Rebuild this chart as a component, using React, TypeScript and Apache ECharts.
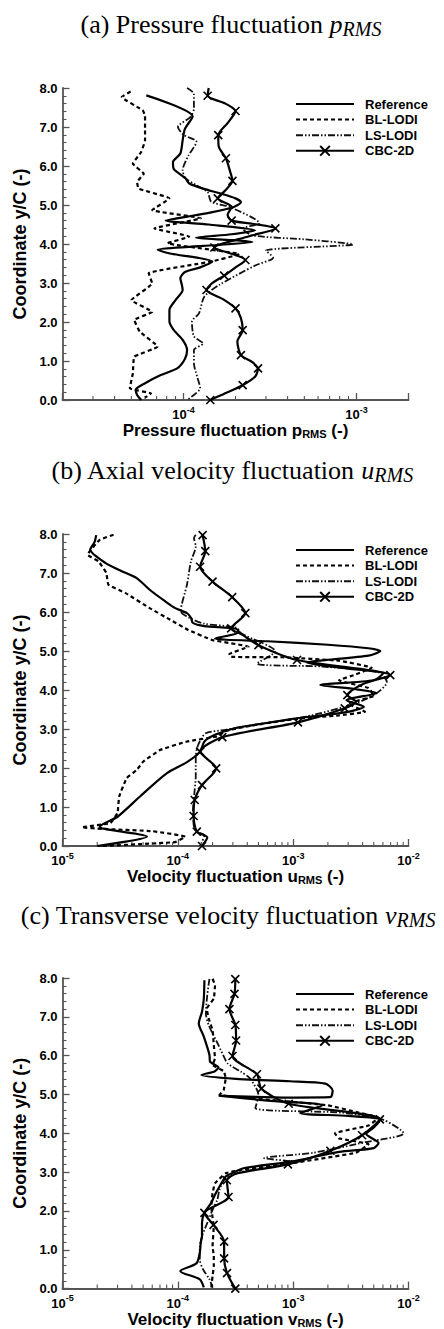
import { useEffect, useRef } from 'react';
import * as echarts from 'echarts';

// ---------------- data ----------------
// Panel (a): pressure fluctuation p_RMS  [value, y/C]
const refA = [
  [6.1e-5, 7.81], [1.13e-4, 7.27], [1.02e-4, 6.95], [9.9e-5, 6.66], [9.6e-5, 6.32], [8.7e-5, 6.1],
  [8.8e-5, 5.92], [9.5e-5, 5.8], [1.03e-4, 5.68], [1.08e-4, 5.55], [1.3e-4, 5.42], [1.65e-4, 5.29],
  [2.0e-4, 5.17], [2.15e-4, 5.07], [1.9e-4, 4.93], [1.4e-4, 4.8], [1.05e-4, 4.7], [7.9e-5, 4.6],
  [1.4e-4, 4.5], [2.6e-4, 4.35], [1.9e-4, 4.25], [1.18e-4, 4.16], [1.9e-4, 4.1], [2.5e-4, 4.05],
  [1.3e-4, 3.95], [7.1e-5, 3.85], [8.5e-5, 3.75], [1.2e-4, 3.65], [1.47e-4, 3.55], [1.25e-4, 3.4],
  [1.02e-4, 3.28], [9.6e-5, 3.12], [9.8e-5, 2.95], [9.9e-5, 2.82], [9.0e-5, 2.56], [8.3e-5, 2.31],
  [8.3e-5, 2.01], [8.8e-5, 1.79], [9.9e-5, 1.54], [1.05e-4, 1.28], [1.02e-4, 1.05], [9.2e-5, 0.81],
  [7.4e-5, 0.64], [6.0e-5, 0.43], [5.3e-5, 0.26], [5.4e-5, 0.13], [5.7e-5, 0.0],
];
const blA = [
  [4.95e-5, 7.91], [4.4e-5, 7.77], [5.8e-5, 7.43], [6.0e-5, 7.3], [6.0e-5, 6.96], [6.0e-5, 6.66],
  [5.7e-5, 6.36], [5.1e-5, 6.06], [5.9e-5, 5.8], [5.4e-5, 5.59], [5.5e-5, 5.42], [8.3e-5, 5.17],
  [6.6e-5, 4.87], [1.26e-4, 4.66], [6.8e-5, 4.4], [1.08e-4, 4.19], [8.1e-5, 4.02], [2.1e-4, 3.74],
  [1.45e-4, 3.55], [6.3e-5, 3.25], [6.6e-5, 2.99], [5.0e-5, 2.56], [6.6e-5, 2.26], [5.2e-5, 2.05],
  [5.6e-5, 1.75], [7.1e-5, 1.37], [5.2e-5, 1.11], [5.1e-5, 0.68], [4.9e-5, 0.3], [6.5e-5, 0.17],
  [6.0e-5, 0.06],
];
const lsA = [
  [1.05e-4, 8.0], [1.15e-4, 7.85], [1.15e-4, 7.47], [1.1e-4, 7.26], [9.3e-5, 7.0], [1.0e-4, 6.8],
  [1.19e-4, 6.62], [1.07e-4, 6.27], [9.9e-5, 5.89], [1.03e-4, 5.68], [1.2e-4, 5.5], [1.38e-4, 5.33],
  [1.45e-4, 5.08], [1.85e-4, 4.95], [2.75e-4, 4.53], [2.2e-4, 4.4], [2.5e-4, 4.22], [5.0e-4, 4.12],
  [9.55e-4, 3.99], [3.0e-4, 3.83], [3.3e-4, 3.65], [2.6e-4, 3.45], [1.61e-4, 2.95], [1.32e-4, 2.65],
  [1.23e-4, 2.22], [1.12e-4, 2.01], [1.15e-4, 1.63], [1.3e-4, 1.45], [1.15e-4, 1.28], [1.15e-4, 0.94],
  [1.2e-4, 0.6], [1.25e-4, 0.3], [1.18e-4, 0.17], [1.05e-4, 0.0],
];
// third column: 1 = CBC-2D marker station
const cbcA = [
  [1.4e-4, 8.0, 0], [1.38e-4, 7.8, 1], [1.75e-4, 7.6, 0], [2.0e-4, 7.41, 1], [1.8e-4, 7.1, 0],
  [1.59e-4, 6.79, 1], [1.6e-4, 6.5, 0], [1.76e-4, 6.2, 1], [1.85e-4, 5.9, 0], [1.92e-4, 5.62, 1],
  [1.75e-4, 5.38, 0], [1.58e-4, 5.17, 1], [1.9e-4, 4.95, 0], [1.8e-4, 4.75, 0], [1.9e-4, 4.6, 1],
  [2.5e-4, 4.52, 0], [3.4e-4, 4.4, 1], [2.4e-4, 4.2, 0], [1.51e-4, 3.91, 1], [2.0e-4, 3.72, 0],
  [2.28e-4, 3.59, 1], [2.0e-4, 3.4, 0], [1.72e-4, 3.19, 1], [1.45e-4, 2.98, 0], [1.36e-4, 2.82, 1],
  [1.7e-4, 2.58, 0], [2.0e-4, 2.35, 1], [2.15e-4, 2.1, 0], [2.2e-4, 1.79, 1], [2.05e-4, 1.5, 0],
  [2.15e-4, 1.15, 1], [2.5e-4, 0.97, 0], [2.7e-4, 0.81, 1], [2.6e-4, 0.6, 0], [2.2e-4, 0.38, 1],
  [1.7e-4, 0.15, 0], [1.43e-4, 0.0, 1],
];

// Panel (b): axial velocity fluctuation u_RMS
const refB = [
  [1.96e-5, 7.97], [1.9e-5, 7.8], [1.74e-5, 7.6], [2.35e-5, 7.26], [3.3e-5, 7.04], [4.4e-5, 6.87],
  [5.7e-5, 6.57], [7.8e-5, 6.27], [9.5e-5, 6.1], [1.2e-4, 5.97], [1.3e-4, 5.85], [1.35e-4, 5.72],
  [1.7e-4, 5.64], [3.2e-4, 5.57], [3.4e-4, 5.48], [2.1e-4, 5.32], [6.0e-4, 5.25], [2.0e-3, 5.16],
  [4.5e-3, 5.07], [5.7e-3, 5.0], [4.5e-3, 4.88], [1.32e-3, 4.7], [3.0e-3, 4.55], [6.0e-3, 4.42],
  [5.0e-3, 4.25], [1.72e-3, 4.13], [3.5e-3, 4.02], [5.3e-3, 3.92], [2.9e-3, 3.74], [4.1e-3, 3.57],
  [3.0e-3, 3.44], [1.05e-3, 3.27], [4.5e-4, 3.1], [3.1e-4, 3.02], [2.1e-4, 2.85], [1.7e-4, 2.68],
  [1.56e-4, 2.42], [1.2e-4, 2.15], [8.0e-5, 1.86], [4.7e-5, 1.27], [3.0e-5, 0.75], [2.1e-5, 0.49],
  [2.2e-5, 0.45], [5.4e-5, 0.24], [2.0e-5, 0.0],
];
const blB = [
  [2.77e-5, 7.98], [2.1e-5, 7.85], [1.65e-5, 7.47], [2.05e-5, 7.3], [2.4e-5, 7.0], [2.5e-5, 6.7],
  [3.5e-5, 6.49], [5.7e-5, 6.1], [8.6e-5, 5.8], [1.23e-4, 5.54], [2.0e-4, 5.28], [4.1e-4, 5.11],
  [2.8e-4, 4.92], [2.85e-4, 4.85], [8.0e-4, 4.84], [2.5e-3, 4.75], [4.8e-3, 4.57], [3.5e-3, 4.4],
  [2.5e-3, 4.25], [4.5e-3, 4.05], [5.0e-3, 3.85], [3.0e-3, 3.65], [4.2e-3, 3.44], [2.5e-3, 3.35],
  [1.0e-3, 3.25], [4.2e-4, 3.08], [2.6e-4, 2.95], [2.2e-4, 2.81], [1.2e-4, 2.68], [7.0e-5, 2.46],
  [5.0e-5, 2.16], [4.4e-5, 1.95], [3.6e-5, 1.74], [3.1e-5, 1.27], [3.0e-5, 0.85], [2.6e-5, 0.59],
  [1.47e-5, 0.48], [2.2e-5, 0.44], [6.0e-5, 0.38], [1.16e-4, 0.24], [9.5e-5, 0.1], [2.2e-5, 0.0],
];
const lsB = [
  [1.43e-4, 7.98], [1.38e-4, 7.9], [1.43e-4, 7.68], [1.3e-4, 7.3], [1.2e-4, 6.7], [1.06e-4, 6.02],
  [1.26e-4, 5.85], [1.7e-4, 5.7], [3.2e-4, 5.6], [3.6e-4, 5.44], [5.0e-4, 5.25], [6.2e-4, 5.12],
  [7.0e-4, 5.0], [4.85e-4, 4.68], [1.8e-3, 4.6], [5.5e-3, 4.45], [6.5e-3, 4.2], [5.3e-3, 3.92],
  [3.5e-3, 3.66], [1.3e-3, 3.32], [4.5e-4, 3.1], [2.6e-4, 2.98], [1.74e-4, 2.89], [1.5e-4, 2.59],
  [1.43e-4, 2.29], [1.43e-4, 1.78], [1.4e-4, 1.44], [1.35e-4, 0.84], [1.38e-4, 0.5], [1.45e-4, 0.37],
  [1.7e-4, 0.28], [1.6e-4, 0.07], [1.55e-4, 0.0],
];
const cbcB = [
  [1.64e-4, 7.97, 1], [1.73e-4, 7.56, 1], [1.56e-4, 7.16, 1], [2.0e-4, 6.78, 1], [2.96e-4, 6.38, 1],
  [3.85e-4, 5.97, 1], [2.9e-4, 5.58, 1], [3.6e-4, 5.42, 0], [5.0e-4, 5.15, 1], [1.08e-3, 4.77, 1],
  [6.95e-3, 4.38, 1], [4.0e-3, 4.15, 0], [2.95e-3, 3.87, 1], [3.5e-3, 3.7, 0], [2.8e-3, 3.53, 1],
  [1.1e-3, 3.17, 1], [2.43e-4, 2.79, 1], [1.56e-4, 2.42, 1], [2.15e-4, 1.99, 1], [1.62e-4, 1.56, 1],
  [1.4e-4, 1.18, 1], [1.37e-4, 0.77, 1], [1.46e-4, 0.37, 1], [1.8e-4, 0.22, 0], [1.62e-4, 0.0, 1],
];

// Panel (c): transverse velocity fluctuation v_RMS
const refC = [
  [1.7e-4, 7.94], [1.68e-4, 7.47], [1.62e-4, 7.13], [1.52e-4, 6.83], [1.68e-4, 6.49], [1.88e-4, 6.02],
  [1.9e-4, 5.85], [2.25e-4, 5.7], [2.1e-4, 5.6], [1.6e-4, 5.5], [3.2e-4, 5.4], [9.4e-4, 5.34],
  [1.9e-3, 5.28], [2.2e-3, 5.1], [2.1e-3, 4.93], [9.0e-4, 4.92], [2.26e-4, 4.97], [6.0e-4, 4.84],
  [1.8e-3, 4.72], [1.15e-3, 4.52], [3.0e-3, 4.45], [5.7e-3, 4.35], [5.0e-3, 4.15], [4.3e-3, 3.98],
  [5.5e-3, 3.75], [5.0e-3, 3.62], [2.5e-3, 3.52], [9.5e-4, 3.27], [3.7e-4, 3.1], [2.95e-4, 2.97],
  [2.6e-4, 2.89], [2.3e-4, 2.63], [2.1e-4, 2.42], [1.95e-4, 2.21], [1.7e-4, 1.95], [1.62e-4, 1.69],
  [1.62e-4, 1.35], [1.58e-4, 1.18], [1.55e-4, 0.92], [1.45e-4, 0.65], [1.05e-4, 0.45], [1.55e-4, 0.24],
  [1.68e-4, 0.03],
];
const blC = [
  [2.0e-4, 7.98], [2.1e-4, 7.81], [2.05e-4, 7.47], [1.78e-4, 7.21], [1.85e-4, 6.96], [2.0e-4, 6.66],
  [2.05e-4, 6.27], [2.1e-4, 5.93], [2.0e-4, 5.76], [2.5e-4, 5.6], [2.6e-4, 5.42], [2.5e-4, 5.12],
  [2.3e-4, 4.99], [7.0e-4, 4.85], [2.0e-3, 4.72], [3.5e-3, 4.55], [5.5e-3, 4.4], [4.5e-3, 4.2],
  [2.3e-3, 4.0], [2.5e-3, 3.87], [4.5e-3, 3.72], [3.5e-3, 3.5], [9.7e-4, 3.23], [3.5e-4, 3.06],
  [2.6e-4, 2.97], [2.1e-4, 2.71], [2.0e-4, 2.46], [1.95e-4, 2.12], [2.0e-4, 1.82], [2.05e-4, 1.61],
  [2.0e-4, 1.09], [2.05e-4, 0.84], [2.05e-4, 0.58], [2.0e-4, 0.32], [1.95e-4, 0.03],
];
const lsC = [
  [1.88e-4, 7.98], [1.8e-4, 7.56], [1.75e-4, 7.09], [1.85e-4, 6.79], [2.25e-4, 6.27], [2.55e-4, 5.93],
  [2.7e-4, 5.8], [3.5e-4, 5.59], [4.2e-4, 5.42], [5.0e-4, 4.99], [4.7e-4, 4.65], [2.7e-3, 4.53],
  [6.0e-3, 4.35], [9.1e-3, 4.0], [4.2e-3, 3.77], [1.5e-3, 3.5], [5.6e-4, 3.36], [1.0e-3, 3.26],
  [6.0e-4, 3.12], [3.5e-4, 3.0], [2.6e-4, 2.85], [2.3e-4, 2.55], [2.2e-4, 2.29], [2.0e-4, 2.03],
  [1.8e-4, 1.69], [1.62e-4, 1.35], [1.55e-4, 1.05], [1.55e-4, 0.75], [1.65e-4, 0.5], [1.88e-4, 0.24],
  [2.0e-4, 0.03],
];
const cbcC = [
  [3.15e-4, 7.97, 1], [3.1e-4, 7.59, 1], [2.8e-4, 7.2, 1], [3.15e-4, 6.79, 1], [3.2e-4, 6.39, 1],
  [2.98e-4, 5.99, 1], [4.85e-4, 5.52, 1], [5.3e-4, 5.15, 1], [9.15e-4, 4.76, 1], [5.65e-3, 4.36, 1],
  [3.96e-3, 3.95, 1], [2.1e-3, 3.55, 1], [9.0e-4, 3.2, 1], [3.3e-4, 2.97, 0], [2.66e-4, 2.79, 1],
  [2.75e-4, 2.36, 1], [1.7e-4, 1.95, 1], [2.04e-4, 1.64, 1], [2.52e-4, 1.21, 1], [2.52e-4, 0.78, 1],
  [2.67e-4, 0.4, 1], [3.15e-4, 0.0, 1],
];

// axes
const seriesNames = ['Reference', 'BL-LODI', 'LS-LODI', 'CBC-2D'];
const xRangeA = [2e-5, 2e-3];
const xRangeBC = [1e-5, 1e-2];
const yRange = [0, 8];
const minorTicksA = [3e-5, 4e-5, 5e-5, 6e-5, 7e-5, 8e-5, 9e-5, 2e-4, 3e-4, 4e-4, 5e-4, 6e-4, 7e-4, 8e-4, 9e-4];
const minorTicksBC = [
  2e-5, 3e-5, 4e-5, 5e-5, 6e-5, 7e-5, 8e-5, 9e-5,
  2e-4, 3e-4, 4e-4, 5e-4, 6e-4, 7e-4, 8e-4, 9e-4,
  2e-3, 3e-3, 4e-3, 5e-3, 6e-3, 7e-3, 8e-3, 9e-3,
];

const panels = [
  { title: '(a) Pressure fluctuation ', sym: 'p', xName: 'Pressure fluctuation p', range: xRangeA, minor: minorTicksA, ref: refA, bl: blA, ls: lsA, cbc: cbcA },
  { title: '(b) Axial velocity fluctuation ', sym: 'u', xName: 'Velocity fluctuation u', range: xRangeBC, minor: minorTicksBC, ref: refB, bl: blB, ls: lsB, cbc: cbcB },
  { title: '(c) Transverse velocity fluctuation ', sym: 'v', xName: 'Velocity fluctuation v', range: xRangeBC, minor: minorTicksBC, ref: refC, bl: blC, ls: lsC, cbc: cbcC },
];

// ---------------- layout / style ----------------
const SANS = 'Arial, "Liberation Sans", Helvetica, sans-serif';
const SERIF = '"Times New Roman", "Liberation Serif", serif';
const AXIS_COLOR = '#555';
const GRID_LEFT = 62.5;
const GRID_W = 346;
const GRID_H = 312;
const gridTops = [88, 534, 978];
const titleCenters = [[231, 24], [232, 470], [228, 915]];
const X_MARK = 'path://M0 0L10 10M10 0L0 10';
const HIDDEN_SYMBOL = { color: 'rgba(0,0,0,0)', borderColor: 'rgba(0,0,0,0)', borderWidth: 0, opacity: 0 };

function buildOption() {
  const grid: any[] = [];
  const xAxis: any[] = [];
  const yAxis: any[] = [];
  const series: any[] = [];
  const legend: any[] = [];
  const title: any[] = [];

  panels.forEach((p, i) => {
    grid.push({ left: GRID_LEFT, top: gridTops[i], width: GRID_W, height: GRID_H, containLabel: false });
    xAxis.push({
      type: 'log',
      logBase: 10,
      gridIndex: i,
      min: p.range[0],
      max: p.range[1],
      position: 'bottom',
      axisLine: { show: true, onZero: false, lineStyle: { color: AXIS_COLOR, width: 1.8 } },
      axisTick: { show: true, inside: true, length: 7, lineStyle: { color: AXIS_COLOR, width: 1.3 } },
      splitLine: { show: false },
      axisLabel: {
        margin: 5,
        color: '#000',
        formatter: (v: number) => {
          const e = Math.round(Math.log10(v));
          if (Math.abs(v - Math.pow(10, e)) > 1e-6 * v) return '';
          return `{b|10}{s|${e}}`;
        },
        rich: {
          b: { fontFamily: SANS, fontWeight: 'bold', fontSize: 13, color: '#000', lineHeight: 16, verticalAlign: 'bottom' },
          s: { fontFamily: SANS, fontWeight: 'bold', fontSize: 9, color: '#000', lineHeight: 10, verticalAlign: 'top' },
        },
      },
      name: `{n|${p.xName}}{s|RMS}{n| (-)}`,
      nameLocation: 'middle',
      nameGap: 18,
      nameTextStyle: {
        rich: {
          n: { fontFamily: SANS, fontWeight: 'bold', fontSize: 17, color: '#000', lineHeight: 18, verticalAlign: 'middle' },
          s: { fontFamily: SANS, fontWeight: 'bold', fontSize: 11, color: '#000', lineHeight: 10, verticalAlign: 'bottom' },
        },
      },
    });
    yAxis.push({
      type: 'value',
      gridIndex: i,
      min: yRange[0],
      max: yRange[1],
      interval: 1,
      position: 'left',
      axisLine: { show: true, onZero: false, lineStyle: { color: AXIS_COLOR, width: 1.8 } },
      axisTick: { show: true, inside: true, length: 7, lineStyle: { color: AXIS_COLOR, width: 1.3 } },
      minorTick: { show: true, splitNumber: 5, length: 4, lineStyle: { color: AXIS_COLOR, width: 1.1 } },
      splitLine: { show: false },
      axisLabel: {
        margin: 5,
        color: '#000',
        fontFamily: SANS,
        fontWeight: 'bold',
        fontSize: 13,
        formatter: (v: number) => v.toFixed(1),
      },
      name: 'Coordinate y/C (-)',
      nameLocation: 'middle',
      nameGap: 34,
      nameTextStyle: { fontFamily: SANS, fontWeight: 'bold', fontSize: 18, color: '#000' },
    });

    // minor log ticks, placed through the x axis scale
    series.push({
      type: 'custom',
      name: 'minorTicks' + i,
      xAxisIndex: i,
      yAxisIndex: i,
      silent: true,
      clip: false,
      data: p.minor.map((v) => [v, yRange[0]]),
      renderItem: (params: any, api: any) => {
        const pt = api.coord([api.value(0), api.value(1)]);
        return {
          type: 'line',
          shape: { x1: pt[0], y1: pt[1], x2: pt[0], y2: pt[1] - 4 },
          style: { stroke: AXIS_COLOR, lineWidth: 1.1 },
        };
      },
      z: 1,
    });

    const common = {
      type: 'line',
      xAxisIndex: i,
      yAxisIndex: i,
      smooth: 0.25,
      clip: true,
      itemStyle: { color: '#000' },
      emphasis: { disabled: true },
    };
    series.push({
      ...common,
      name: 'Reference',
      symbol: 'none',
      data: p.ref,
      lineStyle: { color: '#000', width: 2.2, type: 'solid' },
      z: 5,
    });
    series.push({
      ...common,
      name: 'BL-LODI',
      symbol: 'none',
      smooth: 0.1,
      data: p.bl,
      lineStyle: { color: '#000', width: 2.2, type: [4, 3] },
      z: 4,
    });
    series.push({
      ...common,
      name: 'LS-LODI',
      symbol: 'none',
      data: p.ls,
      lineStyle: { color: '#111', width: 1.8, type: [7, 2, 1.5, 2, 1.5, 2] },
      z: 3,
    });
    series.push({
      ...common,
      name: 'CBC-2D',
      symbol: X_MARK,
      symbolSize: 8,
      showSymbol: true,
      itemStyle: { color: '#000', borderColor: '#000', borderWidth: 1.6 },
      data: p.cbc.map((d) => (d[2] === 1 ? { value: [d[0], d[1]] } : { value: [d[0], d[1]], symbol: 'none' })),
      lineStyle: { color: '#000', width: 2.2, type: 'solid' },
      z: 6,
    });

    legend.push({
      left: 295,
      top: gridTops[i] + 8.5,
      orient: 'vertical',
      itemWidth: 58,
      itemHeight: 12,
      itemGap: 0.6,
      selectedMode: false,
      padding: 0,
      data: [
        { name: 'Reference', itemStyle: HIDDEN_SYMBOL },
        { name: 'BL-LODI', itemStyle: HIDDEN_SYMBOL },
        { name: 'LS-LODI', itemStyle: HIDDEN_SYMBOL },
        { name: seriesNames[3] },
      ],
      textStyle: { fontFamily: SANS, fontWeight: 'bold', fontSize: 13, color: '#000', lineHeight: 15, padding: [0, 0, 0, 6] },
    });

    title.push({
      text: `{t|${p.title}}{i|${p.sym}}{s|RMS}`,
      left: titleCenters[i][0],
      top: titleCenters[i][1] - 13,
      textAlign: 'center',
      padding: 0,
      textStyle: {
        fontFamily: SERIF,
        fontWeight: 'normal',
        fontSize: 26,
        color: '#000',
        rich: {
          t: { fontFamily: SERIF, fontSize: 26, lineHeight: 26, color: '#000' },
          i: { fontFamily: SERIF, fontSize: 26, fontStyle: 'italic', lineHeight: 26, color: '#000' },
          s: { fontFamily: SERIF, fontSize: 20, fontStyle: 'italic', lineHeight: 16, padding: [10, 0, 0, 0], color: '#000' },
        },
      },
    });
  });

  return {
    animation: false,
    backgroundColor: '#fff',
    title,
    grid,
    xAxis,
    yAxis,
    series,
    legend,
  };
}

export default function App() {
  const ref = useRef<HTMLDivElement>(null);
  useEffect(() => {
    if (!ref.current) return;
    const chart = echarts.init(ref.current, undefined, { renderer: 'svg' });
    chart.setOption(buildOption() as any);
    return () => chart.dispose();
  }, []);
  return <div ref={ref} style={{ position: 'absolute', left: 0, top: 0, width: 444, height: 1329 }} />;
}
